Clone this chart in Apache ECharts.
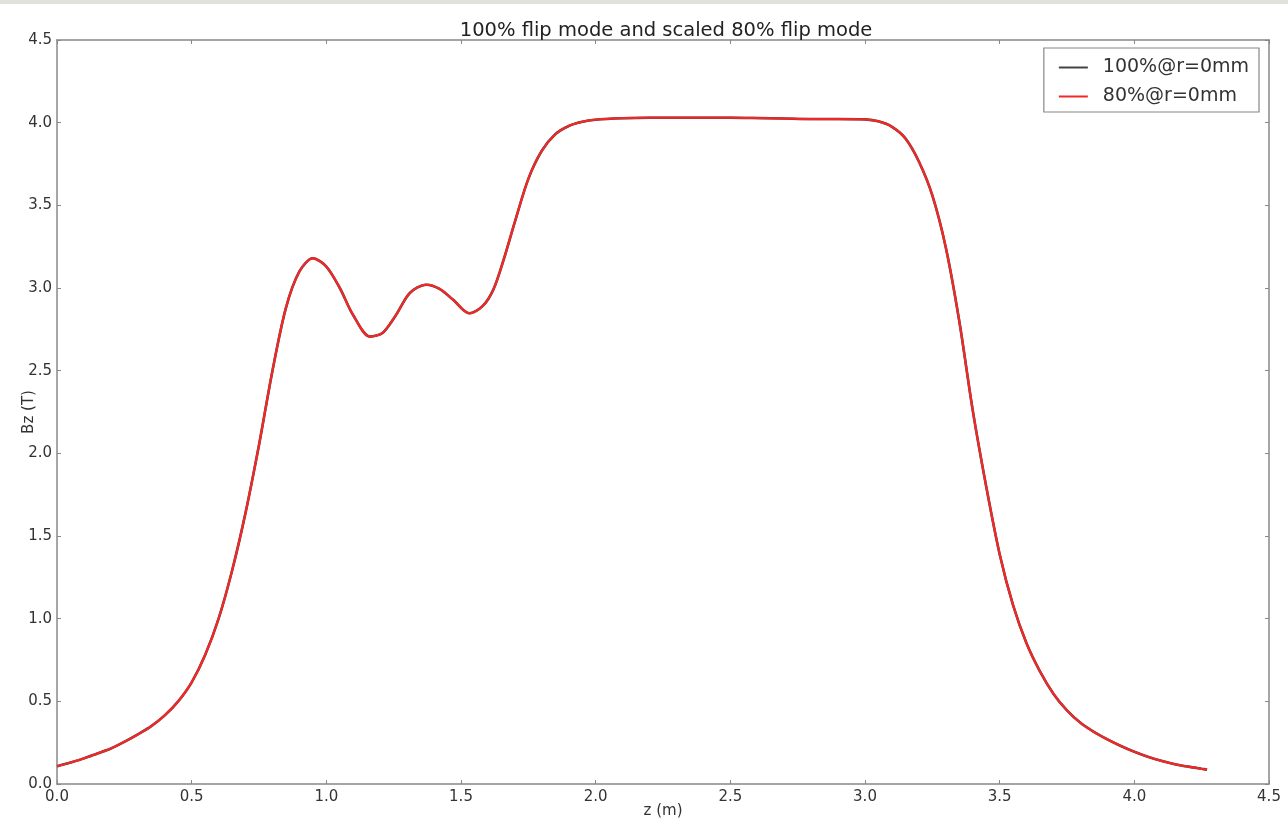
<!DOCTYPE html>
<html>
<head>
<meta charset="utf-8">
<script src="https://cdn.jsdelivr.net/npm/echarts@6/dist/echarts.min.js"></script>
<style>
html,body{margin:0;padding:0;background:#fff;}
#chart{width:1288px;height:825px;}
</style>
</head>
<body>
<div id="chart"></div>
<script>
// z positions (m)
var zValues = [0.00,0.05,0.10,0.15,0.20,0.25,0.30,0.35,0.40,0.45,0.50,0.55,0.60,0.65,0.70,0.75,0.80,0.85,0.90,0.95,
  1.00,1.05,1.10,1.162,1.21,1.26,1.31,1.37,1.42,1.47,1.531,1.58,1.62,1.66,1.70,1.75,1.80,1.85,1.90,1.95,
  2.00,2.10,2.20,2.30,2.40,2.50,2.60,2.70,2.80,2.90,3.00,3.05,3.10,3.15,3.20,3.25,3.30,3.35,3.40,3.45,
  3.50,3.55,3.60,3.65,3.70,3.75,3.80,3.85,3.90,3.95,4.00,4.05,4.10,4.15,4.20,4.25,4.27];
// Bz (T), 100% flip mode
var bz100 = [0.107,0.13,0.155,0.185,0.215,0.255,0.30,0.35,0.415,0.50,0.615,0.78,1.00,1.29,1.64,2.05,2.50,2.88,3.10,3.18,
  3.13,3.00,2.835,2.706,2.73,2.84,2.97,3.02,2.995,2.93,2.847,2.89,2.99,3.18,3.40,3.66,3.83,3.93,3.98,4.005,
  4.018,4.027,4.03,4.03,4.03,4.03,4.028,4.025,4.022,4.022,4.02,4.008,3.975,3.905,3.765,3.56,3.245,2.80,2.26,1.80,
  1.39,1.08,0.85,0.68,0.545,0.445,0.37,0.315,0.27,0.23,0.195,0.165,0.14,0.12,0.105,0.092,0.087];
// Bz (T), scaled 80% flip mode
var bz80 = [0.107,0.13,0.155,0.185,0.215,0.255,0.30,0.35,0.415,0.50,0.615,0.78,1.00,1.29,1.64,2.05,2.50,2.88,3.10,3.18,
  3.13,3.00,2.835,2.706,2.73,2.84,2.97,3.02,2.995,2.93,2.847,2.89,2.99,3.18,3.40,3.66,3.83,3.93,3.98,4.005,
  4.018,4.027,4.03,4.03,4.03,4.03,4.028,4.025,4.022,4.022,4.02,4.008,3.975,3.905,3.765,3.56,3.245,2.80,2.26,1.80,
  1.39,1.08,0.85,0.68,0.545,0.445,0.37,0.315,0.27,0.23,0.195,0.165,0.14,0.12,0.105,0.092,0.087];
var seriesNames = ['100%@r=0mm', '80%@r=0mm'];
var xTicks = [0.0,0.5,1.0,1.5,2.0,2.5,3.0,3.5,4.0,4.5];
var yTicks = [0.0,0.5,1.0,1.5,2.0,2.5,3.0,3.5,4.0,4.5];

function pairs(xs, ys){ return xs.map(function(x,i){ return [x, ys[i]]; }); }

var FONT = 'DejaVu Sans';
var axisColor = '#888888';
var textColor = '#333333';

var chart = echarts.init(document.getElementById('chart'), null, {renderer:'canvas'});
var baseX = {
  type:'value', min:xTicks[0], max:xTicks[xTicks.length-1], interval:0.5,
  axisLine:{show:true, onZero:false, lineStyle:{color:axisColor, width:1.5}},
  axisTick:{show:true, inside:true, length:4, lineStyle:{color:axisColor}},
  splitLine:{show:false}
};
var baseY = {
  type:'value', min:yTicks[0], max:yTicks[yTicks.length-1], interval:0.5,
  axisLine:{show:true, onZero:false, lineStyle:{color:axisColor, width:1.5}},
  axisTick:{show:true, inside:true, length:4, lineStyle:{color:axisColor}},
  splitLine:{show:false}
};
var option = {
  backgroundColor:'#ffffff',
  animation:false,
  title:{
    text:'100% flip mode and scaled 80% flip mode',
    left:661, textAlign:'center', top:16,
    textStyle:{fontFamily:FONT, fontSize:19.5, fontWeight:'normal', color:'#222'}
  },
  legend:{
    data:seriesNames,
    orient:'vertical',
    right:29, top:48,
    padding:[10,10,6,14],
    itemWidth:29, itemHeight:14, itemGap:10,
    borderColor:'#888', borderWidth:1.2, borderRadius:0,
    backgroundColor:'#fff',
    itemStyle:{opacity:0},
    textStyle:{fontFamily:FONT, fontSize:19, color:textColor, padding:[0,0,0,10]}
  },
  grid:{left:57, right:19, top:40, bottom:41, outerBoundsMode:'none'},
  xAxis:[
    Object.assign({}, baseX, {
      position:'bottom',
      name:'z (m)', nameLocation:'middle', nameGap:20, nameMoveOverlap:false,
      nameTextStyle:{fontFamily:FONT, fontSize:15, color:textColor},
      axisLabel:{show:true, margin:6, fontFamily:FONT, fontSize:15, color:textColor,
        showMinLabel:true, showMaxLabel:true,
        formatter:function(v){ return v.toFixed(1); }}
    }),
    Object.assign({}, baseX, {position:'top', axisLabel:{show:false}})
  ],
  yAxis:[
    Object.assign({}, baseY, {
      position:'left',
      name:'Bz (T)', nameLocation:'middle', nameGap:20, nameRotate:90, nameMoveOverlap:false,
      nameTextStyle:{fontFamily:FONT, fontSize:15, color:textColor},
      axisLabel:{show:true, margin:5, fontFamily:FONT, fontSize:15, color:textColor,
        showMinLabel:true, showMaxLabel:true,
        formatter:function(v){ return v.toFixed(1); }}
    }),
    Object.assign({}, baseY, {position:'right', axisLabel:{show:false}})
  ],
  graphic:[
    {type:'rect', shape:{x:0, y:0, width:1288, height:4}, style:{fill:'#e2e2dd'}, silent:true}
  ],
  series:[
    {
      name:seriesNames[0], type:'line', xAxisIndex:0, yAxisIndex:0,
      data:pairs(zValues, bz100), smooth:0.3, symbol:'none', showSymbol:false,
      lineStyle:{color:'#444444', width:2.6}, itemStyle:{color:'#444444'}, z:2
    },
    {
      name:seriesNames[1], type:'line', xAxisIndex:0, yAxisIndex:0,
      data:pairs(zValues, bz80), smooth:0.3, symbol:'none', showSymbol:false,
      lineStyle:{color:'#f02828', width:2.3}, itemStyle:{color:'#f02828'}, z:3
    }
  ]
};
chart.setOption(option);
</script>
</body>
</html>
